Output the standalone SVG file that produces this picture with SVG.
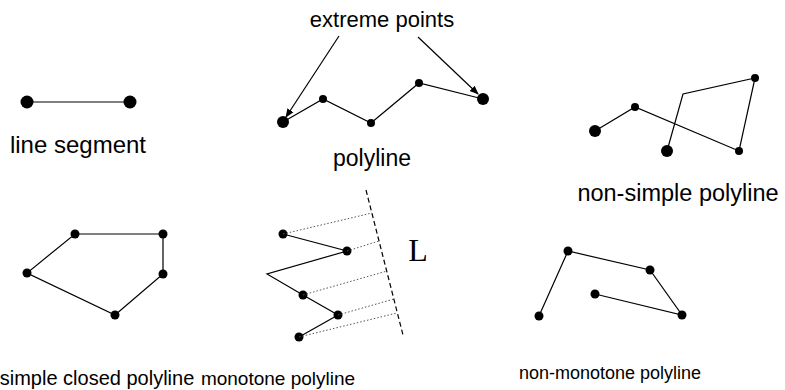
<svg xmlns="http://www.w3.org/2000/svg" width="785" height="390" viewBox="0 0 785 390">
  <defs>
    <style>
      .edge { fill: none; stroke: #000; stroke-width: 1.2; }
      .dot { fill: #000; }
      .lbl { font-family: "Liberation Sans", Arial, sans-serif; fill: #000; text-anchor: middle; }
      .proj { fill: none; stroke: #555; stroke-width: 1; stroke-dasharray: 1.5 2; }
      .axis { fill: none; stroke: #000; stroke-width: 1.2; stroke-dasharray: 5 3; }
    </style>
    <marker id="arrow" viewBox="0 0 10 10" refX="9" refY="5" markerWidth="9" markerHeight="9" markerUnits="userSpaceOnUse" orient="auto">
      <path d="M0,1 L10,5 L0,9 Z" fill="#000"/>
    </marker>
  </defs>
  <rect width="785" height="390" fill="#fff"/>

  <!-- line segment -->
  <g id="line-segment">
    <line class="edge" x1="27" y1="102" x2="130" y2="102"/>
    <circle class="dot" cx="27" cy="102" r="6.5"/>
    <circle class="dot" cx="130" cy="102" r="6.5"/>
    <text class="lbl" x="78" y="153" font-size="24">line segment</text>
  </g>

  <!-- open polyline with its two end points marked -->
  <g id="polyline">
    <polyline class="edge" points="283,122 323,99 371,123 419,83 483,99"/>
    <circle class="dot" cx="283" cy="122" r="6"/>
    <circle class="dot" cx="323" cy="99" r="4"/>
    <circle class="dot" cx="371" cy="123" r="4"/>
    <circle class="dot" cx="419" cy="83" r="4"/>
    <circle class="dot" cx="483" cy="99" r="6"/>
    <text class="lbl" x="372" y="166" font-size="23">polyline</text>
  </g>

  <g id="extreme-points">
    <text class="lbl" x="382" y="27" font-size="22">extreme points</text>
  </g>

  <!-- self-intersecting polyline -->
  <g id="non-simple-polyline">
    <polyline class="edge" points="595,131 635,107 739,151 755,78 683,94 667,151"/>
    <circle class="dot" cx="595" cy="131" r="6"/>
    <circle class="dot" cx="635" cy="107" r="4"/>
    <circle class="dot" cx="739" cy="151" r="4"/>
    <circle class="dot" cx="755" cy="78" r="4"/>
    <circle class="dot" cx="667" cy="151" r="6"/>
    <text class="lbl" x="678" y="201" font-size="23.5">non-simple polyline</text>
  </g>

  <!-- closed polygon -->
  <g id="simple-closed-polyline">
    <polygon class="edge" points="75,234 163,234 163,274 115,315 27,273"/>
    <circle class="dot" cx="75" cy="234" r="4.5"/>
    <circle class="dot" cx="163" cy="234" r="4.5"/>
    <circle class="dot" cx="163" cy="274" r="4.5"/>
    <circle class="dot" cx="115" cy="315" r="4.5"/>
    <circle class="dot" cx="27" cy="273" r="4.5"/>
    <text class="lbl" x="97" y="385" font-size="20">simple closed polyline</text>
  </g>

  <!-- polyline monotone with respect to line L -->
  <g id="monotone-polyline">
    <polyline class="edge" points="283,234 347,251 267,274 303,295 338,315 299,337"/>
    <circle class="dot" cx="283" cy="234" r="4.5"/>
    <circle class="dot" cx="347" cy="251" r="4.5"/>
    <circle class="dot" cx="303" cy="295" r="4.5"/>
    <circle class="dot" cx="338" cy="315" r="4.5"/>
    <circle class="dot" cx="299" cy="337" r="4.5"/>
    <text class="lbl" x="278" y="385" font-size="19">monotone polyline</text>
  </g>

  <g id="line-L">
    <line class="axis" x1="366" y1="190" x2="403" y2="335"/>
    <text x="418" y="261" font-family="'Liberation Serif', 'Times New Roman', serif" font-size="32" text-anchor="middle">L</text>
  </g>

  <!-- non-monotone polyline -->
  <g id="non-monotone-polyline">
    <polyline class="edge" points="539,316 568,251 650,270 682,315 595,294"/>
    <circle class="dot" cx="539" cy="316" r="4.5"/>
    <circle class="dot" cx="568" cy="251" r="4.5"/>
    <circle class="dot" cx="650" cy="270" r="4.5"/>
    <circle class="dot" cx="682" cy="315" r="4.5"/>
    <circle class="dot" cx="595" cy="294" r="4.5"/>
    <text class="lbl" x="610" y="379" font-size="18">non-monotone polyline</text>
  </g>

  <g id="connectors">
    <!-- pointers from the caption to the end points -->
    <line class="edge" x1="339" y1="36" x2="286" y2="117" marker-end="url(#arrow)"/>
    <line class="edge" x1="418" y1="37" x2="478" y2="94" marker-end="url(#arrow)"/>
    <!-- projections of the vertices onto L -->
    <line class="proj" x1="283" y1="234" x2="372" y2="213"/>
    <line class="proj" x1="347" y1="251" x2="379" y2="241"/>
    <line class="proj" x1="303" y1="295" x2="387" y2="271"/>
    <line class="proj" x1="338" y1="315" x2="394" y2="299"/>
    <line class="proj" x1="299" y1="337" x2="397" y2="313"/>
  </g>
</svg>
